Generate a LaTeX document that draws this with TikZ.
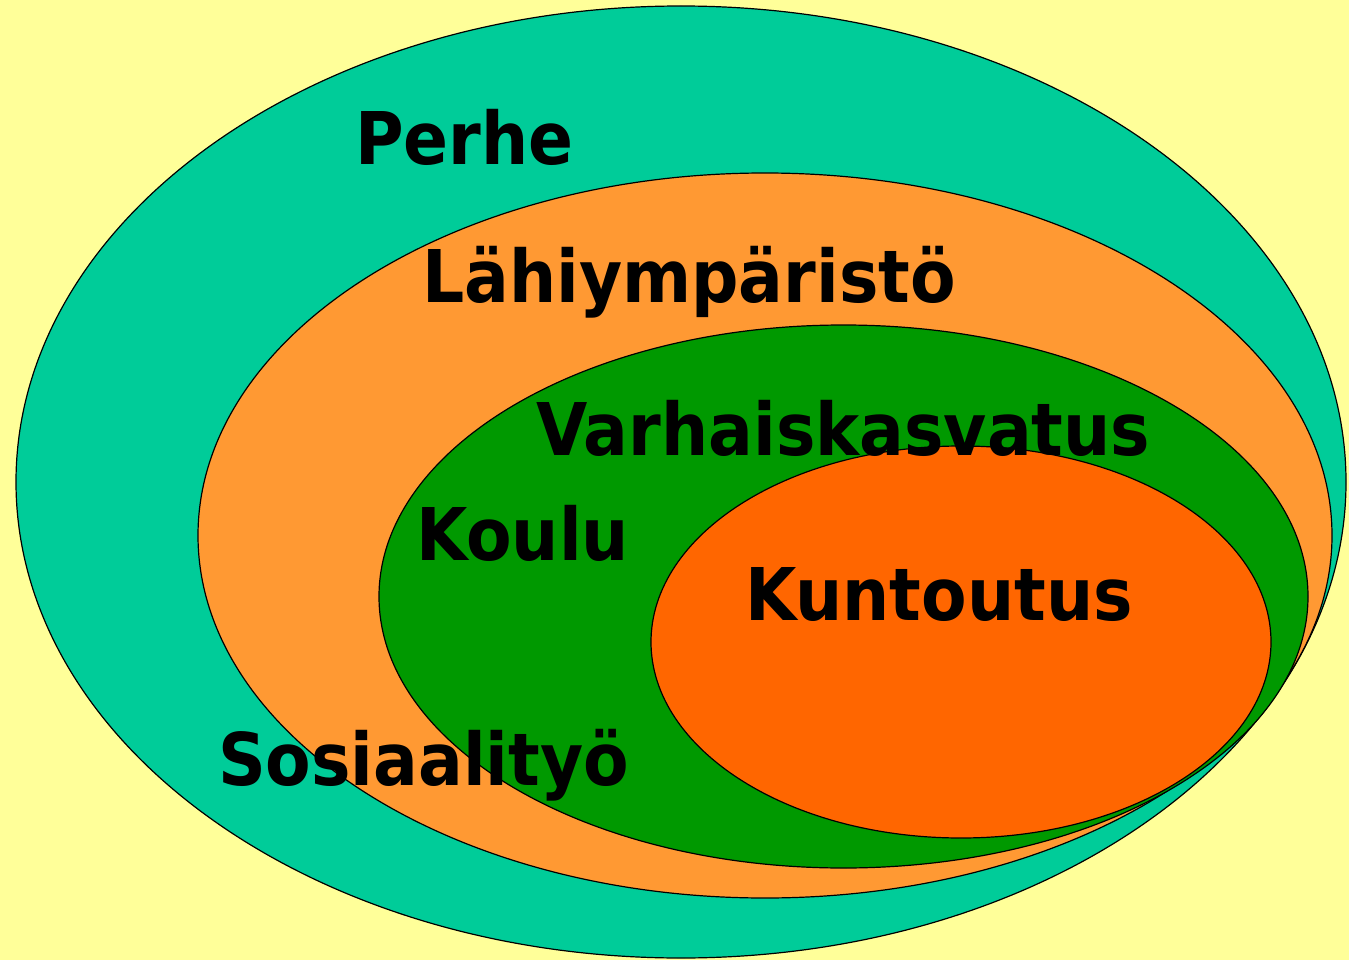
\documentclass[tikz,border=0pt]{standalone}
\usepackage{fontspec}
\setmainfont{DejaVu Sans}
\definecolor{bgyellow}{HTML}{FFFF99}
\definecolor{teal1}{HTML}{00CC99}
\definecolor{orange1}{HTML}{FF9933}
\definecolor{green1}{HTML}{009900}
\definecolor{red1}{HTML}{FF6600}
\begin{document}
\begin{tikzpicture}[x=1pt,y=-1pt,
  ring/.style={draw=black,line width=1.2pt},
  lbl/.style={anchor=base west,inner sep=0pt,font=\fontsize{72.7}{80}\selectfont\bfseries,xscale=0.912}]
\fill[bgyellow] (0,0) rectangle (1349,960);
\useasboundingbox (0,0) rectangle (1349,960);
\draw[ring,fill=teal1] (681,482) ellipse [x radius=665, y radius=476];
\draw[ring,fill=orange1] (765,535.5) ellipse [x radius=567, y radius=362.5];
\draw[ring,fill=green1] (843.5,596.5) ellipse [x radius=464.5, y radius=271.5];
\draw[ring,fill=red1] (961,642) ellipse [x radius=310, y radius=196];
\node[lbl] (perhe) at (355,165) {Perhe};
\node[lbl] (lahi) at (422,302) {Lähiympäristö};
\node[lbl] (varh) at (536,455) {Varhaiskasvatus};
\node[lbl] (koulu) at (416,560) {Koulu};
\node[lbl] (kunt) at (745,620) {Kuntoutus};
\node[lbl] (sos) at (218,785) {Sosiaalityö};
\end{tikzpicture}
\end{document}
